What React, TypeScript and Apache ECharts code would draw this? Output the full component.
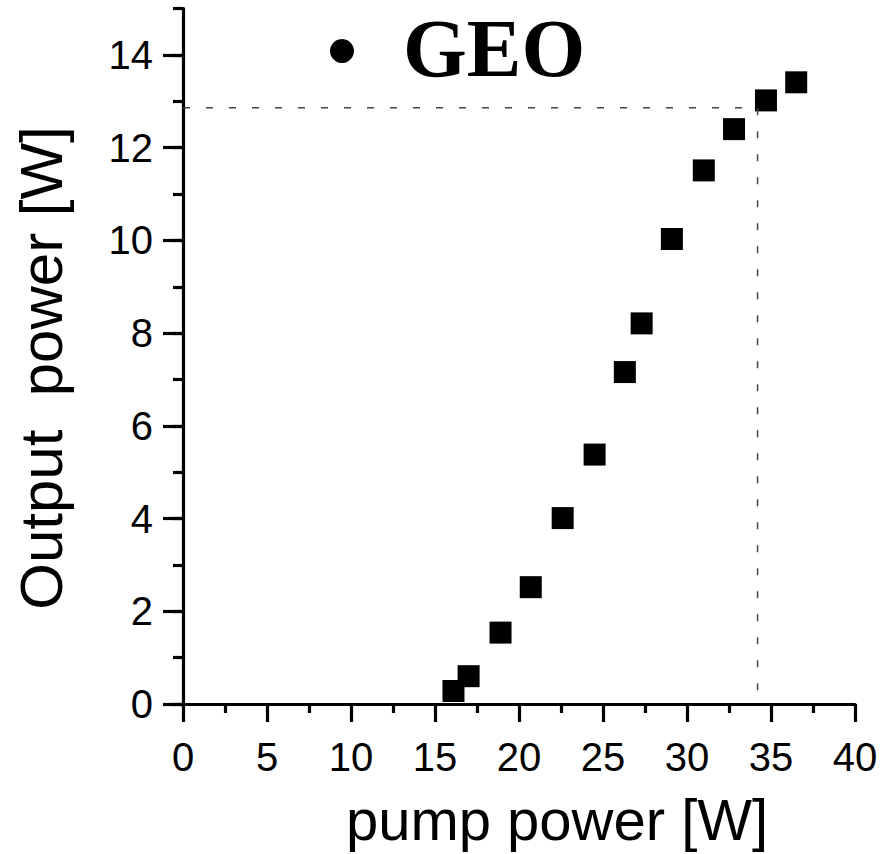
import React, { useEffect, useRef } from "react";
import * as echarts from "echarts";

const pumpPower = [16.1, 17.0, 18.9, 20.7, 22.6, 24.5, 26.3, 27.3, 29.1, 31.0, 32.8, 34.7, 36.5];
const outputPower = [0.28, 0.6, 1.54, 2.52, 4.01, 5.38, 7.16, 8.21, 10.03, 11.51, 12.4, 13.02, 13.41];
const guideX = [0, 34.2, 34.2];
const guideY = [12.86, 12.86, 0];
const seriesName = "GEO";
const xTitle = "pump power [W]";
const yTitle = "Output\u00a0\u00a0power [W]";

export default function App() {
  const ref = useRef<HTMLDivElement>(null);
  useEffect(() => {
    if (!ref.current) return;
    const chart = echarts.init(ref.current, null, { renderer: "svg" });
    const sans = "Liberation Sans";
    const lw = 3.2;
    const axisLineStyle = { color: "#000", width: lw };
    chart.setOption({
      animation: false,
      backgroundColor: "#fff",
      grid: [
        { left: 183, right: 33, top: 8.6, bottom: 150 },
        { left: 183, right: 33, top: 54.96, bottom: 150 },
      ],
      xAxis: [
        {
          type: "value",
          gridIndex: 0,
          min: 0,
          max: 40,
          interval: 5,
          splitLine: { show: false },
          axisLine: { lineStyle: axisLineStyle },
          axisTick: { length: 18, lineStyle: { color: "#000", width: lw } },
          minorTick: { show: true, splitNumber: 2, length: 9, lineStyle: { color: "#000", width: lw } },
          axisLabel: { color: "#000", fontFamily: sans, fontSize: 40, margin: 33 },
        },
        { type: "value", gridIndex: 1, min: 0, max: 40, show: false },
      ],
      yAxis: [
        {
          type: "value",
          gridIndex: 0,
          min: 0,
          max: 15,
          interval: 1,
          splitLine: { show: false },
          axisLine: { show: true, lineStyle: axisLineStyle },
          axisTick: { length: 10, lineStyle: { color: "#000", width: lw } },
          axisLabel: { show: false },
        },
        {
          type: "value",
          gridIndex: 1,
          min: 0,
          max: 14,
          interval: 2,
          splitLine: { show: false },
          axisLine: { show: false },
          axisTick: { show: true, length: 20, lineStyle: { color: "#000", width: lw } },
          axisLabel: { color: "#000", fontFamily: sans, fontSize: 40, margin: 30 },
        },
      ],
      series: [
        {
          name: "guide",
          type: "line",
          xAxisIndex: 0,
          yAxisIndex: 0,
          data: guideX.map((x, i) => [x, guideY[i]]),
          symbol: "none",
          lineStyle: { color: "#444", width: 1.5, type: [7, 16] },
          silent: true,
        },
        {
          name: seriesName,
          type: "scatter",
          xAxisIndex: 0,
          yAxisIndex: 0,
          data: pumpPower.map((x, i) => [x, outputPower[i]]),
          symbol: "rect",
          symbolSize: 22,
          itemStyle: { color: "#000", opacity: 1 },
        },
      ],
      graphic: [
        { type: "circle", shape: { cx: 342, cy: 51, r: 12 }, style: { fill: "#000" } },
        {
          type: "text",
          x: 403,
          y: 48,
          style: {
            text: seriesName,
            fill: "#000",
            font: "bold 82px 'Liberation Serif'",
            textAlign: "left",
            textVerticalAlign: "middle",
          },
        },
        {
          type: "text",
          x: 557,
          y: 819,
          style: {
            text: xTitle,
            fill: "#000",
            font: "58px 'Liberation Sans'",
            textAlign: "center",
            textVerticalAlign: "middle",
          },
        },
        {
          type: "text",
          x: 41,
          y: 368,
          rotation: Math.PI / 2,
          style: {
            text: yTitle,
            fill: "#000",
            font: "60px 'Liberation Sans'",
            textAlign: "center",
            textVerticalAlign: "middle",
          },
        },
      ],
    });
    return () => chart.dispose();
  }, []);
  return (
    <div
      ref={ref}
      style={{ position: "fixed", left: 0, top: 0, width: 888, height: 854, background: "#fff" }}
    />
  );
}
